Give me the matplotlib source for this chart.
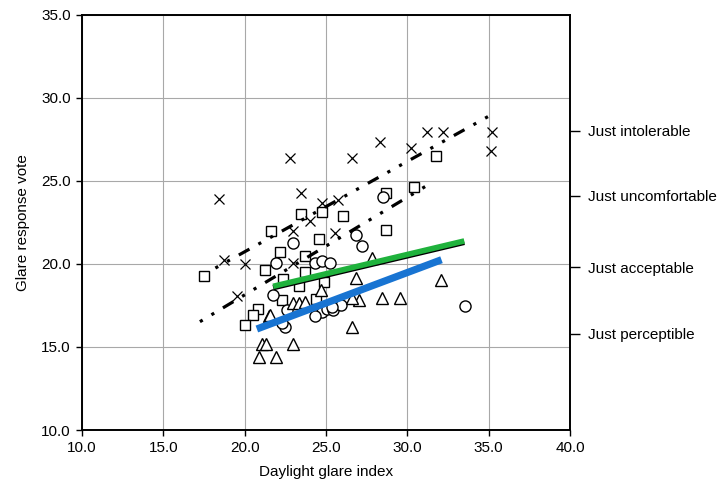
import matplotlib
matplotlib.use("Agg")
import matplotlib.pyplot as plt
import numpy as np

plt.rcParams['font.family'] = ['Liberation Sans', 'DejaVu Sans']

# ---- data ----
cross_x = [18.4, 22.8, 23.45, 24.75, 25.75, 26.6, 28.3, 30.2, 31.2, 32.2, 35.2, 35.15,
           24.0, 22.95, 25.55, 18.75, 20.0, 19.5, 22.95]
cross_y = [23.9, 26.4, 24.25, 23.65, 23.85, 26.4, 27.35, 27.0, 27.95, 27.95, 27.95, 26.8,
           22.6, 22.0, 21.85, 20.25, 20.0, 18.05, 20.05]

square_x = [17.5, 21.6, 22.15, 23.7, 24.6, 21.25, 23.7, 22.35, 23.35, 24.85, 22.3, 24.4,
            20.85, 20.5, 20.0, 31.75, 30.4, 28.7, 26.05, 28.7, 23.45, 24.75]
square_y = [19.25, 22.0, 20.7, 20.5, 21.5, 19.65, 19.5, 19.1, 18.65, 18.9, 17.8, 17.9,
            17.3, 16.95, 16.3, 26.5, 24.6, 24.25, 22.9, 22.05, 23.0, 23.1]

circle_x = [22.95, 21.95, 24.3, 24.75, 25.25, 21.75, 22.6, 22.45, 24.75, 25.05, 24.3,
            25.45, 28.5, 26.85, 27.2, 25.95, 33.55, 22.3, 25.35]
circle_y = [21.25, 20.05, 20.05, 20.15, 20.05, 18.15, 17.25, 16.2, 17.1, 17.3, 16.85,
            17.25, 24.05, 21.75, 21.1, 17.5, 17.45, 16.45, 17.4]

tri_x = [21.05, 21.3, 23.0, 20.9, 21.9, 21.5, 23.0, 23.35, 23.7, 24.7, 27.8, 26.85,
         27.05, 26.6, 28.45, 29.55, 32.05, 26.6, 21.55]
tri_y = [15.2, 15.2, 15.2, 14.4, 14.4, 16.85, 17.65, 17.65, 17.7, 18.4, 20.35, 19.15,
         17.85, 17.95, 17.95, 17.95, 19.0, 16.2, 16.95]

# regression lines (endpoints)
dash_a_x = [18.2, 35.15]
dash_a_y = [19.75, 28.97]
dash_b_x = [17.25, 31.6]
dash_b_y = [16.52, 24.95]
green_x = [21.75, 33.5]
green_y = [18.62, 21.35]
blue_x = [20.75, 32.1]
blue_y = [16.08, 20.25]

xticks = [10.0, 15.0, 20.0, 25.0, 30.0, 35.0, 40.0]
yticks = [10.0, 15.0, 20.0, 25.0, 30.0, 35.0]
right_ticks = [15.8, 19.8, 24.1, 28.0]
right_labels = ['Just perceptible', 'Just acceptable', 'Just uncomfortable', 'Just intolerable']

# ---- figure ----
fig = plt.figure(figsize=(7.19, 4.88), dpi=100)
ax = fig.add_axes([82/719, 1-430/488, (570-82)/719, (430-14.7)/488])

ax.set_xlim(10, 40)
ax.set_ylim(10, 35)
ax.set_xticks(xticks)
ax.set_yticks(yticks)
ax.set_xticklabels([f"{t:.1f}" for t in xticks])
ax.set_yticklabels([f"{t:.1f}" for t in yticks])
ax.grid(True, color='#a8a8a8', linewidth=0.8)
ax.set_axisbelow(True)
ax.tick_params(direction='out', length=4, width=1, labelsize=11, pad=4, color='black')
for s in ax.spines.values():
    s.set_linewidth(1.2)
    s.set_color('black')

ax.set_xlabel('Daylight glare index', fontsize=11, labelpad=7)
ax.set_ylabel('Glare response vote', fontsize=11, labelpad=8)

# scatter markers
ax.plot(square_x, square_y, 's', ms=7, mfc='white', mec='black', mew=1.0, zorder=3)
ax.plot(circle_x, circle_y, 'o', ms=8, mfc='white', mec='black', mew=1.0, zorder=3)
ax.plot(tri_x, tri_y, '^', ms=8, mfc='white', mec='black', mew=1.0, zorder=3)
ax.plot(cross_x, cross_y, 'x', ms=7, color='black', mew=0.9, zorder=3)

# dashed regression lines
dash_style = (0, (1.0, 3.2, 1.0, 3.2, 3.8, 3.2))
ax.plot(dash_a_x, dash_a_y, color='black', lw=2.3, linestyle=dash_style, zorder=4)
ax.plot(dash_b_x, dash_b_y, color='black', lw=2.3, linestyle=dash_style, zorder=4)

# coloured regression lines
ax.plot(green_x, np.array(green_y) - 0.05, color='black', lw=4.0,
        solid_capstyle='butt', zorder=5)
ax.plot(green_x, np.array(green_y) + 0.03, color='#1fb23c', lw=4.0,
        solid_capstyle='butt', zorder=6)
ax.plot(blue_x, blue_y, color='#1874d2', lw=5.2, solid_capstyle='butt', zorder=6)

# right-hand verbal scale
ax2 = ax.twinx()
ax2.set_ylim(10, 35)
ax2.set_yticks(right_ticks)
ax2.set_yticklabels(right_labels)
ax2.tick_params(direction='out', length=7, width=1, labelsize=11, pad=6, color='black')
for s in ax2.spines.values():
    s.set_linewidth(1.2)

fig.savefig('out.png', dpi=100)
